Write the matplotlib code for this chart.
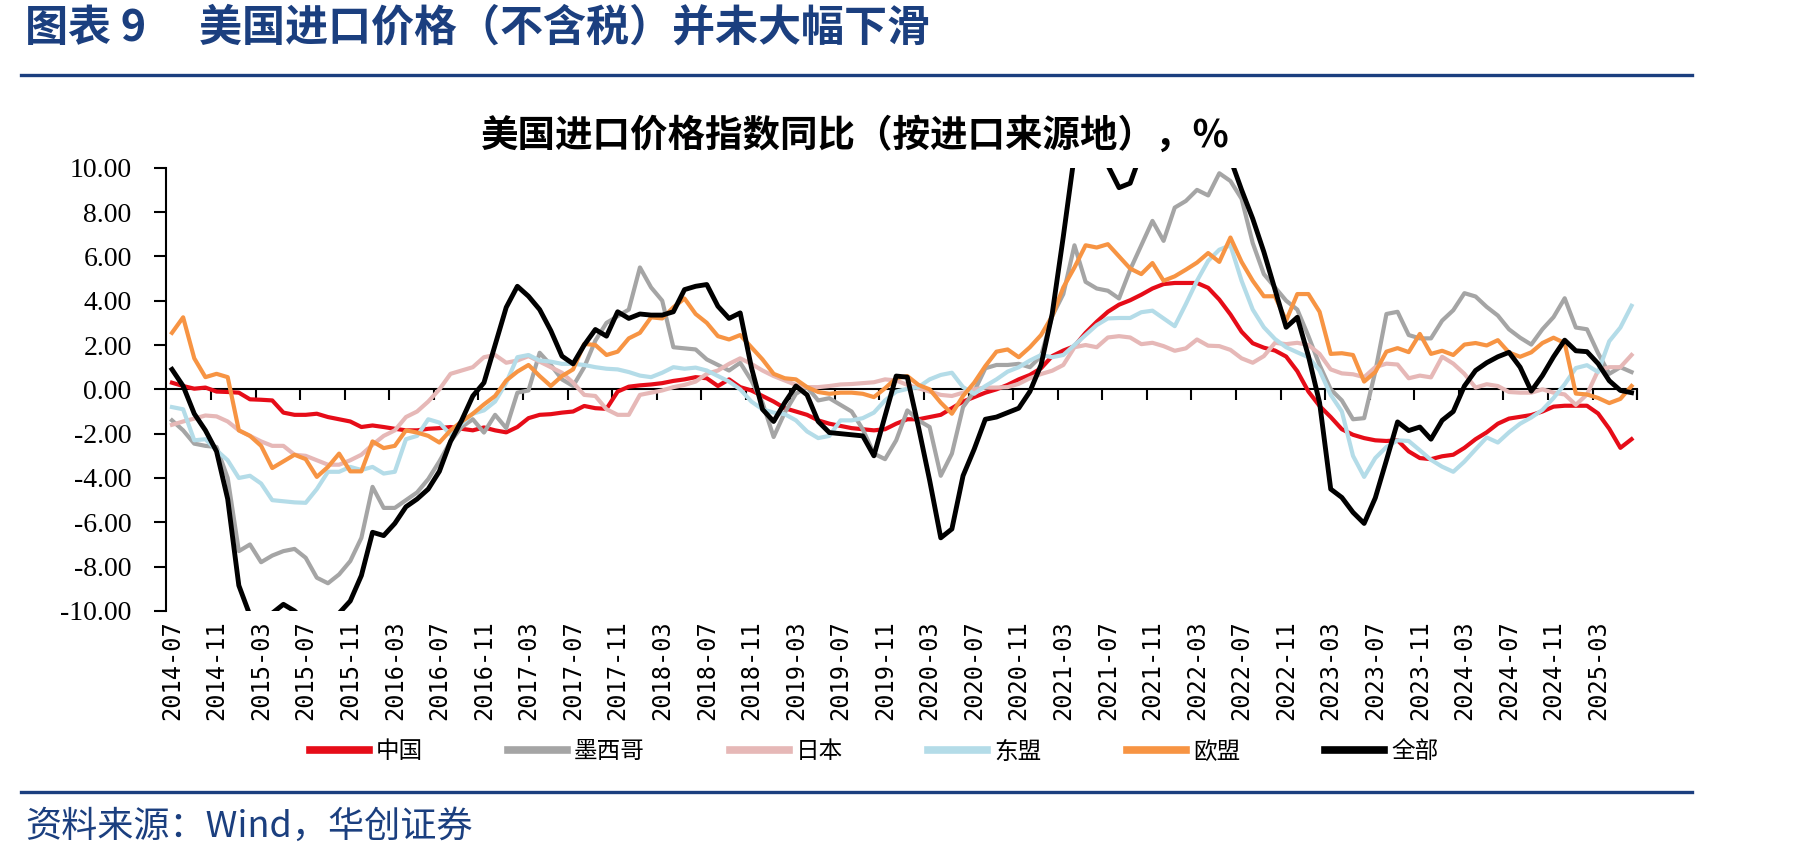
import numpy as np
import matplotlib
matplotlib.use("Agg")
import matplotlib.pyplot as plt
from matplotlib.lines import Line2D

plt.rcParams['font.family'] = ['Noto Sans CJK SC', 'DejaVu Sans']

# 横轴：2014-07 至 2025-06，共132个月，每4个月一个标签
n_months = 132
tick_labels = ['2014-07', '2014-11', '2015-03', '2015-07', '2015-11', '2016-03',
               '2016-07', '2016-11', '2017-03', '2017-07', '2017-11', '2018-03',
               '2018-07', '2018-11', '2019-03', '2019-07', '2019-11', '2020-03',
               '2020-07', '2020-11', '2021-03', '2021-07', '2021-11', '2022-03',
               '2022-07', '2022-11', '2023-03', '2023-07', '2023-11', '2024-03',
               '2024-07', '2024-11', '2025-03']

# 各来源地进口价格指数同比，%
china = [0.30, 0.15, 0.03, 0.08, -0.10, -0.12, -0.15, -0.45, -0.47, -0.50,
         -1.05, -1.15, -1.15, -1.10, -1.25, -1.35, -1.45, -1.70, -1.63, -1.70,
         -1.78, -1.85, -1.85, -1.78, -1.75, -1.70, -1.78, -1.85, -1.72, -1.85,
         -1.94, -1.70, -1.30, -1.15, -1.12, -1.05, -1.00, -0.75, -0.85, -0.88,
         -0.10, 0.12, 0.18, 0.22, 0.28, 0.38, 0.45, 0.55, 0.50, 0.15,
         0.45, 0.10, -0.05, -0.30, -0.55, -0.85, -1.00, -1.15, -1.40, -1.55,
         -1.65, -1.75, -1.80, -1.85, -1.80, -1.55, -1.35, -1.35, -1.25, -1.15,
         -0.85, -0.55, -0.35, -0.15, 0.00, 0.20, 0.45, 0.65, 0.95, 1.50,
         1.75, 1.95, 2.55, 3.05, 3.50, 3.82, 4.02, 4.27, 4.55, 4.75,
         4.80, 4.80, 4.80, 4.58, 4.05, 3.38, 2.60, 2.08, 1.88, 1.75,
         1.48, 0.82, -0.10, -0.75, -1.25, -1.80, -2.05, -2.20, -2.30, -2.33,
         -2.30, -2.80, -3.10, -3.15, -3.02, -2.95, -2.64, -2.25, -1.94, -1.55,
         -1.32, -1.24, -1.16, -1.00, -0.78, -0.74, -0.74, -0.74, -1.09, -1.78,
         -2.64, -2.25]

mexico = [-1.40, -1.85, -2.45, -2.55, -2.60, -4.00, -7.30, -7.00, -7.80, -7.50,
          -7.30, -7.20, -7.60, -8.50, -8.75, -8.35, -7.75, -6.70, -4.40, -5.35,
          -5.35, -5.00, -4.65, -4.05, -3.25, -2.35, -1.70, -1.35, -1.95, -1.15,
          -1.75, -0.15, -0.05, 1.65, 1.10, 0.45, 0.15, 1.00, 2.20, 3.00,
          3.30, 3.60, 5.50, 4.60, 4.00, 1.90, 1.85, 1.80, 1.35, 1.10,
          0.85, 1.20, 0.40, -0.60, -2.15, -1.05, -0.20, 0.10, -0.50, -0.40,
          -0.70, -1.00, -1.80, -2.90, -3.15, -2.30, -0.95, -1.40, -1.70, -3.90,
          -2.90, -0.80, -0.10, 0.95, 1.10, 1.10, 1.15, 1.00, 1.50, 3.30,
          4.30, 6.50, 4.85, 4.55, 4.45, 4.10, 5.40, 6.50, 7.60, 6.70,
          8.20, 8.50, 9.00, 8.75, 9.75, 9.40, 8.60, 6.60, 5.20, 4.60,
          4.00, 3.60, 2.40, 1.10, 0.00, -0.50, -1.35, -1.30, 0.80, 3.40,
          3.50, 2.45, 2.30, 2.30, 3.10, 3.57, 4.34, 4.19, 3.72, 3.33,
          2.71, 2.33, 2.02, 2.71, 3.26, 4.11, 2.79, 2.71, 1.63, 0.70,
          1.00, 0.78]

japan = [-1.60, -1.45, -1.32, -1.18, -1.22, -1.45, -1.85, -2.10, -2.35, -2.55,
         -2.55, -2.95, -3.00, -3.20, -3.40, -3.40, -3.20, -2.95, -2.50, -2.10,
         -1.85, -1.25, -1.00, -0.55, 0.00, 0.70, 0.85, 1.00, 1.45, 1.55,
         1.20, 1.30, 1.50, 1.25, 1.00, 0.75, 0.30, -0.25, -0.30, -0.90,
         -1.15, -1.15, -0.25, -0.15, -0.05, 0.10, 0.20, 0.35, 0.70, 0.85,
         1.15, 1.40, 1.15, 0.85, 0.60, 0.40, 0.20, 0.10, 0.10, 0.15,
         0.22, 0.24, 0.28, 0.32, 0.45, 0.40, 0.20, 0.05, -0.10, -0.25,
         -0.30, -0.15, 0.00, 0.08, 0.08, 0.10, 0.25, 0.50, 0.69, 0.84,
         1.10, 1.90, 2.00, 1.90, 2.34, 2.40, 2.34, 2.04, 2.10, 1.95,
         1.74, 1.85, 2.25, 1.97, 1.95, 1.78, 1.40, 1.20, 1.50, 2.10,
         2.04, 2.10, 2.00, 1.60, 0.90, 0.72, 0.68, 0.55, 1.00, 1.16,
         1.12, 0.50, 0.62, 0.54, 1.47, 1.16, 0.70, 0.08, 0.23, 0.15,
         -0.12, -0.15, -0.15, 0.00, -0.15, -0.23, -0.70, -0.23, 0.85, 1.00,
         1.00, 1.55]

asean = [-0.80, -0.90, -2.30, -2.25, -2.75, -3.20, -4.00, -3.90, -4.25, -5.00,
         -5.05, -5.10, -5.12, -4.50, -3.72, -3.72, -3.50, -3.64, -3.50, -3.80,
         -3.72, -2.25, -2.10, -1.35, -1.50, -2.05, -1.55, -1.10, -0.95, -0.55,
         0.30, 1.45, 1.55, 1.30, 1.25, 1.15, 1.15, 1.10, 1.00, 0.93,
         0.90, 0.78, 0.62, 0.55, 0.75, 1.00, 0.93, 0.98, 0.85, 0.60,
         0.35, 0.00, -0.55, -0.90, -1.05, -1.12, -1.40, -1.90, -2.20, -2.10,
         -1.40, -1.40, -1.30, -1.05, -0.50, -0.10, 0.02, 0.10, 0.45, 0.65,
         0.75, 0.10, -0.20, 0.15, 0.45, 0.80, 1.00, 1.30, 1.55, 1.45,
         1.55, 2.00, 2.45, 2.90, 3.20, 3.22, 3.22, 3.48, 3.55, 3.20,
         2.85, 3.85, 4.90, 5.80, 6.30, 6.50, 4.90, 3.60, 2.80, 2.27,
         1.90, 1.67, 1.45, 0.85, -0.25, -1.00, -3.00, -3.95, -3.10, -2.60,
         -2.30, -2.33, -2.75, -3.18, -3.49, -3.72, -3.26, -2.71, -2.17, -2.40,
         -1.94, -1.55, -1.27, -0.93, -0.39, 0.23, 0.96, 1.09, 0.78, 2.17,
         2.79, 3.77]

eu = [2.55, 3.25, 1.40, 0.55, 0.70, 0.55, -1.85, -2.10, -2.55, -3.55,
      -3.25, -2.95, -3.15, -3.95, -3.50, -2.90, -3.70, -3.70, -2.35, -2.65,
      -2.55, -1.85, -1.95, -2.10, -2.40, -1.85, -1.45, -1.10, -0.68, -0.30,
      0.40, 0.80, 1.10, 0.60, 0.15, 0.60, 0.90, 2.05, 2.00, 1.55,
      1.70, 2.30, 2.55, 3.25, 3.20, 3.70, 4.10, 3.40, 3.00, 2.40,
      2.25, 2.45, 1.90, 1.35, 0.70, 0.50, 0.45, 0.10, -0.12, -0.20,
      -0.15, -0.15, -0.20, -0.35, 0.05, 0.50, 0.60, 0.20, 0.00, -0.60,
      -1.10, -0.30, 0.30, 1.05, 1.70, 1.80, 1.45, 1.90, 2.45, 3.30,
      4.60, 5.50, 6.50, 6.40, 6.55, 6.00, 5.45, 5.20, 5.70, 4.90,
      5.10, 5.40, 5.72, 6.15, 5.75, 6.85, 5.75, 4.90, 4.20, 4.20,
      3.10, 4.30, 4.30, 3.50, 1.60, 1.63, 1.55, 0.35, 0.78, 1.70,
      1.86, 1.68, 2.50, 1.60, 1.74, 1.55, 2.02, 2.09, 1.98, 2.22,
      1.66, 1.47, 1.67, 2.09, 2.33, 2.09, -0.19, -0.23, -0.39, -0.62,
      -0.43, 0.15]

# 全部（超出±10的部分在图中被截断，为估计值）
all_src = [0.90, 0.15, -1.10, -1.85, -2.80, -4.95, -8.85, -10.20, -10.60, -10.10,
           -9.70, -10.00, -10.50, -10.90, -10.70, -10.10, -9.55, -8.40, -6.45, -6.60,
           -6.05, -5.30, -4.95, -4.50, -3.70, -2.35, -1.40, -0.30, 0.30, 2.00,
           3.70, 4.65, 4.20, 3.60, 2.65, 1.50, 1.15, 2.00, 2.70, 2.40,
           3.50, 3.20, 3.40, 3.35, 3.35, 3.50, 4.50, 4.65, 4.73, 3.75,
           3.20, 3.45, 1.00, -0.90, -1.45, -0.60, 0.15, -0.25, -1.45, -1.95,
           -2.00, -2.05, -2.10, -3.00, -1.20, 0.60, 0.55, -1.70, -4.10, -6.70,
           -6.30, -3.90, -2.70, -1.35, -1.25, -1.05, -0.85, -0.10, 1.10, 3.40,
           6.90, 10.60, 11.30, 11.20, 10.10, 9.10, 9.30, 10.70, 11.70, 10.40,
           10.80, 11.30, 12.50, 12.00, 11.70, 10.40, 9.00, 7.70, 6.20, 4.50,
           2.80, 3.25, 1.50, -0.60, -4.50, -4.88, -5.55, -6.05, -4.90, -3.20,
           -1.47, -1.86, -1.70, -2.25, -1.40, -1.00, 0.15, 0.85, 1.20, 1.47,
           1.67, 1.00, -0.08, 0.62, 1.47, 2.22, 1.74, 1.70, 1.16, 0.39,
           -0.05, -0.15]

blue = '#1B3F7F'

fig = plt.figure(figsize=(18.01, 8.61), dpi=100)
ax = fig.add_axes([0.0924, 0.2904, 0.8166, 0.5148])

x = np.arange(n_months)
series = [(china, '中国', '#E60C18', 3.0),
          (mexico, '墨西哥', '#A5A5A5', 3.0),
          (japan, '日本', '#E6B8B7', 3.0),
          (asean, '东盟', '#B4DCE8', 3.0),
          (eu, '欧盟', '#F79443', 3.0),
          (all_src, '全部', '#000000', 3.5)]
for vals, name, col, lw in series:
    ax.plot(x, vals, color=col, lw=lw, label=name)

ax.set_xlim(-0.5, n_months - 0.5)
ax.set_ylim(-10, 10)
yt = np.arange(-10, 10.1, 2)
ax.set_yticks(yt)
ax.set_yticklabels([f'{v:.2f}' for v in yt], fontfamily='Liberation Serif', fontsize=20)
ax.set_xticks(np.arange(0, n_months, 4))
ax.set_xticklabels(tick_labels, rotation=90, fontfamily='DejaVu Sans Mono', fontsize=17)
ax.tick_params(axis='x', length=0, pad=7)
ax.tick_params(axis='y', length=9, width=1.5, pad=16, direction='out')
for s in ['top', 'right', 'bottom']:
    ax.spines[s].set_visible(False)
ax.spines['left'].set_linewidth(1.5)

# 零轴及刻度线
zero = ax.secondary_xaxis(0.5)
zero.set_ticks(list(np.arange(3.5, n_months, 4)) + [n_months - 0.5])
zero.tick_params(axis='x', direction='in', length=8, width=1.5,
                 labeltop=False, labelbottom=False)
for s in zero.spines.values():
    s.set_linewidth(1.5)

leg = fig.legend(loc='center', bbox_to_anchor=(0.4853, 0.1266), ncol=6,
                 frameon=False, fontsize=17, handlelength=2.5,
                 handletextpad=0.3, columnspacing=3.6)
for l in leg.get_lines():
    l.set_linewidth(5.5)

fig.text(0.0139, 0.968, '图表 9　 美国进口价格（不含税）并未大幅下滑',
         fontsize=31, fontweight='bold', color=blue, ha='left', va='center')
fig.text(0.4751, 0.8426, '美国进口价格指数同比（按进口来源地），%',
         fontsize=27, fontweight='bold', ha='center', va='center')
fig.text(0.0139, 0.0395, '资料来源：Wind，华创证券', fontsize=26,
         color=blue, style='italic', ha='left', va='center')

fig.add_artist(Line2D([0.0115, 0.9395], [0.9132, 0.9132], transform=fig.transFigure,
                      color=blue, lw=2.4))
fig.add_artist(Line2D([0.0115, 0.9395], [0.0796, 0.0796], transform=fig.transFigure,
                      color=blue, lw=2.4))

fig.savefig('out.png', dpi=100)
